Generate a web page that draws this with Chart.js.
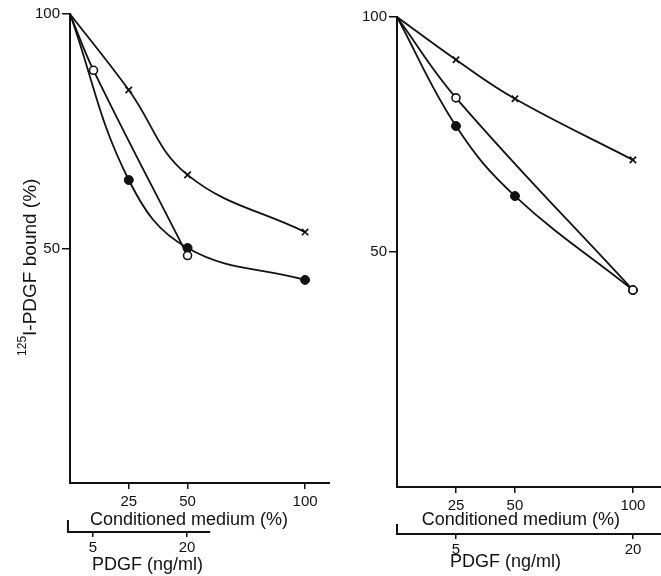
<!DOCTYPE html>
<html>
<head>
<meta charset="utf-8">
<script src="https://cdn.jsdelivr.net/npm/chart.js@4.4.0/dist/chart.umd.min.js"></script>
<style>
  html, body { margin: 0; padding: 0; background: #fff; }
  #wrap { position: relative; width: 661px; height: 576px; }
  .panel { position: absolute; top: 0; height: 576px; }
  #left { left: 0; width: 330px; }
  #right { left: 330px; width: 331px; }
</style>
</head>
<body>
<div id="wrap">
  <div class="panel" id="left"><canvas id="chartA"></canvas></div>
  <div class="panel" id="right"><canvas id="chartB"></canvas></div>
</div>
<script>
// x = conditioned medium (%); the open circles (PDGF) sit at their matching CM position
const cmTicks = [25, 50, 100];
const pdgfTicks = [5, 20];
const yTicks = [50, 100];

// left panel
const leftCrossX = [0, 25, 50, 100];
const leftCross = [100, 83.8, 65.7, 53.5];
const leftFilledX = [0, 25, 50, 100];
const leftFilled = [100, 64.6, 50.1, 43.3];
const leftOpenX = [0, 10, 50];
const leftOpen = [100, 88, 48.5];

// right panel
const rightCrossX = [0, 25, 50, 100];
const rightCross = [100, 90.9, 82.6, 69.6];
const rightFilledX = [0, 25, 50, 100];
const rightFilled = [100, 76.8, 61.9, 41.9];
const rightOpenX = [0, 25, 100];
const rightOpen = [100, 82.8, 41.9];

const ink = '#111';
const fam = '"Liberation Sans", Arial, sans-serif';
const tickFont = { family: fam, size: 15 };
const titleFont = '18px ' + fam;
const yTitleFont = '19px ' + fam;
const supFont = '12px ' + fam;

const cross = { shape: 'crossRot', r: 4.5, fill: ink, bw: 1.7 };
const open = { shape: 'circle', r: 4, fill: '#fff', bw: 1.6 };
const filled = { shape: 'circle', r: 4.5, fill: ink, bw: 1 };

function series(xs, ys, st) {
  return {
    data: xs.map((x, i) => ({ x: x, y: ys[i] })),
    borderColor: ink,
    borderWidth: 1.8,
    tension: 0.4,
    pointRadius: xs.map(x => x === 0 ? 0 : st.r),
    pointStyle: st.shape,
    pointBackgroundColor: st.fill,
    pointBorderColor: ink,
    pointBorderWidth: st.bw,
    clip: false
  };
}

// PDGF axis line (shorter than the plot on the left panel) and the axis titles
const axisText = {
  id: 'axisText',
  afterDraw(chart, args, o) {
    const { ctx } = chart;
    const { x, x2, y } = chart.scales;
    ctx.save();
    ctx.strokeStyle = ink;
    ctx.fillStyle = ink;
    ctx.lineWidth = 2;
    const x0 = x2.getPixelForValue(o.pdgfFrom);
    const x1 = x2.getPixelForValue(o.pdgfTo);
    ctx.beginPath();
    ctx.moveTo(x0, x2.top - o.endMark);
    ctx.lineTo(x0, x2.top);
    ctx.lineTo(x1, x2.top);
    ctx.stroke();

    ctx.font = titleFont;
    ctx.textBaseline = 'middle';
    ctx.textAlign = 'center';
    ctx.fillText('Conditioned medium (%)', x.getPixelForValue(o.cmAt), x.top + o.cmDy);
    ctx.textAlign = 'left';
    ctx.fillText('PDGF (ng/ml)', x2.getPixelForValue(o.pdgfAt), x2.top + o.pdgfDy);

    if (o.yTitle) {
      ctx.translate(o.yTitleX, y.getPixelForValue(o.yTitleAt));
      ctx.rotate(-Math.PI / 2);
      ctx.font = supFont;
      const wSup = ctx.measureText('125').width;
      ctx.font = yTitleFont;
      const wMain = ctx.measureText('I-PDGF bound (%)').width;
      const start = -(wSup + wMain) / 2;
      ctx.font = supFont;
      ctx.fillText('125', start, -8);
      ctx.font = yTitleFont;
      ctx.fillText('I-PDGF bound (%)', start + wSup, 0);
    }
    ctx.restore();
  }
};

function makeChart(id, c) {
  return new Chart(document.getElementById(id), {
    type: 'line',
    data: { datasets: c.datasets },
    options: {
      responsive: true,
      maintainAspectRatio: false,
      animation: false,
      layout: { autoPadding: false, padding: { top: c.top, left: 0, right: 0, bottom: 0 } },
      plugins: { legend: { display: false }, tooltip: { enabled: false }, axisText: c.text },
      scales: {
        x: {
          type: 'linear', position: 'bottom', weight: 0, min: 0, max: c.cmMax,
          afterBuildTicks: s => { s.ticks = cmTicks.map(v => ({ value: v })); },
          afterFit: s => { s.height = c.xH; },
          grid: { drawOnChartArea: false, tickLength: 6, color: ink, lineWidth: 1.5 },
          border: { color: ink, width: 2 },
          ticks: { font: tickFont, color: ink, padding: 4, maxRotation: 0 }
        },
        x2: {
          type: 'linear', position: 'bottom', weight: 1, min: c.pdgfMin, max: c.pdgfMax,
          afterBuildTicks: s => { s.ticks = pdgfTicks.map(v => ({ value: v })); },
          afterFit: s => { s.height = c.x2H; },
          grid: { drawOnChartArea: false, tickLength: 5, color: ink, lineWidth: 1.5 },
          border: { display: false },
          ticks: { font: tickFont, color: ink, padding: 2, maxRotation: 0 }
        },
        y: {
          type: 'linear', position: 'left', min: 0, max: 100,
          afterBuildTicks: s => { s.ticks = yTicks.map(v => ({ value: v })); },
          afterFit: s => { s.width = c.yW; },
          grid: { drawOnChartArea: false, tickLength: 8, color: ink, lineWidth: 1.5 },
          border: { color: ink, width: 2 },
          ticks: { font: tickFont, color: ink, padding: 2 }
        }
      }
    },
    plugins: [axisText]
  });
}

// first dataset is drawn on top
makeChart('chartA', {
  top: 14, yW: 70, xH: 49, x2H: 44,
  cmMax: 110.6, pdgfMin: 1.33, pdgfMax: 42.8,
  datasets: [
    series(leftOpenX, leftOpen, open),
    series(leftCrossX, leftCross, cross),
    series(leftFilledX, leftFilled, filled)
  ],
  text: { pdgfFrom: 1.0, pdgfTo: 23.7, endMark: 12, cmAt: 50.6, cmDy: 37, pdgfAt: 4.84, pdgfDy: 33,
          yTitle: true, yTitleX: 31, yTitleAt: 46 }
});

makeChart('chartB', {
  top: 17, yW: 67, xH: 47, x2H: 42,
  cmMax: 111.9, pdgfMin: 0, pdgfMax: 22.37,
  datasets: [
    series(rightOpenX, rightOpen, open),
    series(rightCrossX, rightCross, cross),
    series(rightFilledX, rightFilled, filled)
  ],
  text: { pdgfFrom: 0, pdgfTo: 22.37, endMark: 10, cmAt: 52.5, cmDy: 33, pdgfAt: 4.49, pdgfDy: 28,
          yTitle: false }
});
</script>
</body>
</html>
